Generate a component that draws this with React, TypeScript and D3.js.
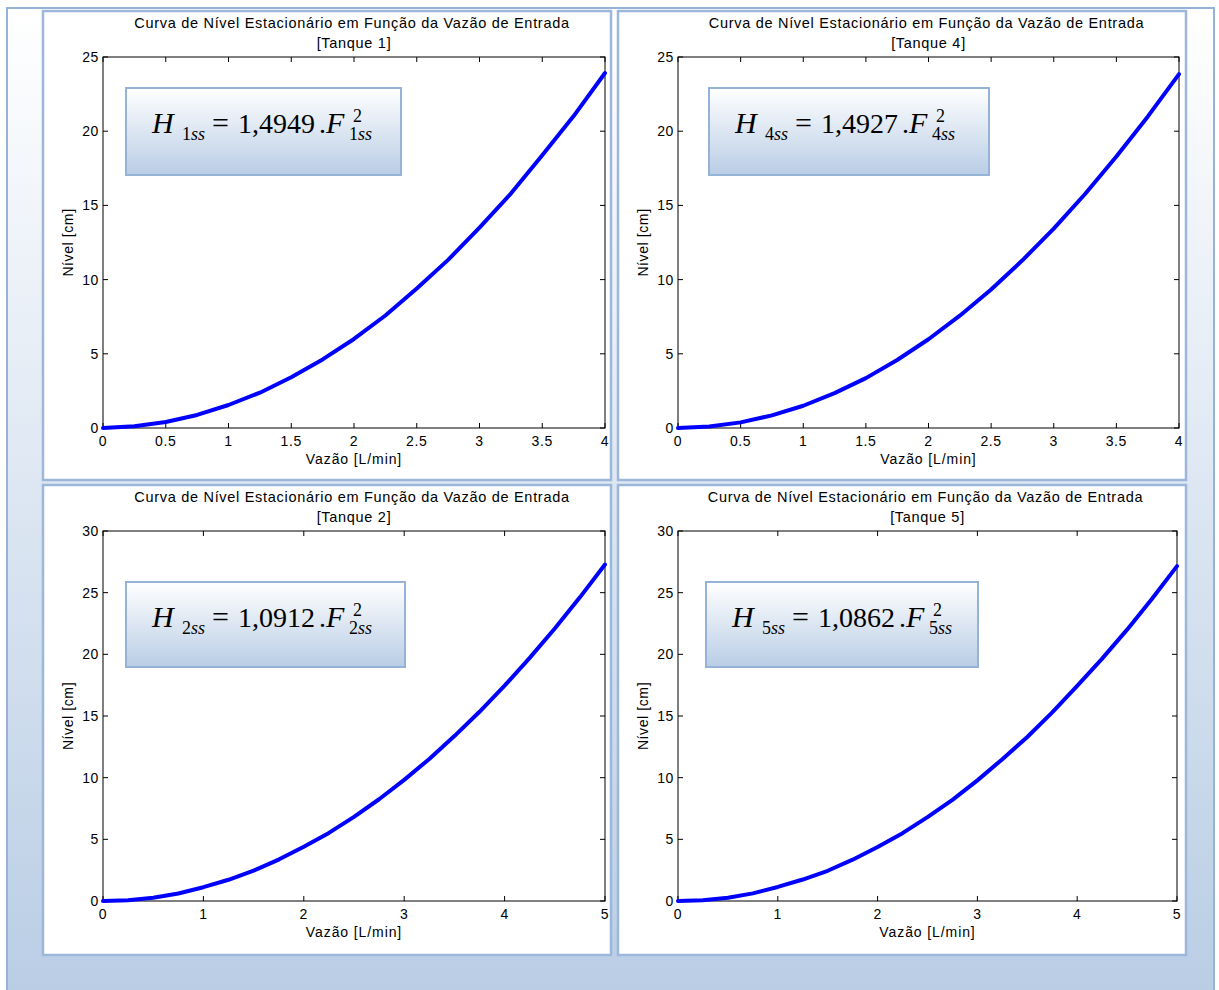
import React from 'react';
import * as d3 from 'd3';

const TITLE = 'Curva de Nível Estacionário em Função da Vazão de Entrada';
const X_LABEL = 'Vazão [L/min]';
const Y_LABEL = 'Nível [cm]';

// tanques 1 e 4 (vazão até 4 L/min)
const flowSmall = [0, 0.25, 0.5, 0.75, 1, 1.25, 1.5, 1.75, 2, 2.25, 2.5, 2.75, 3, 3.25, 3.5, 3.75, 4];
const level1 = [0, 0.12, 0.4, 0.88, 1.55, 2.38, 3.42, 4.62, 6.0, 7.58, 9.4, 11.33, 13.5, 15.8, 18.38, 21.02, 23.92];
const level4 = [0, 0.1, 0.38, 0.85, 1.5, 2.35, 3.36, 4.58, 5.98, 7.57, 9.33, 11.3, 13.43, 15.77, 18.3, 20.98, 23.85];

// tanques 2 e 5 (vazão até 5 L/min)
const flowLarge = [0, 0.25, 0.5, 0.75, 1, 1.25, 1.5, 1.75, 2, 2.25, 2.5, 2.75, 3, 3.25, 3.5, 3.75, 4, 4.25, 4.5, 4.75, 5];
const level2 = [0, 0.07, 0.27, 0.61, 1.12, 1.72, 2.46, 3.36, 4.4, 5.52, 6.82, 8.25, 9.82, 11.52, 13.37, 15.34, 17.46, 19.71, 22.1, 24.62, 27.28];
const level5 = [0, 0.07, 0.27, 0.62, 1.14, 1.74, 2.45, 3.35, 4.38, 5.5, 6.8, 8.2, 9.78, 11.5, 13.3, 15.3, 17.45, 19.65, 22.0, 24.5, 27.15];

const xTicksSmall = [0, 0.5, 1, 1.5, 2, 2.5, 3, 3.5, 4];
const xTicksLarge = [0, 1, 2, 3, 4, 5];
const yTicksSmall = [0, 5, 10, 15, 20, 25];
const yTicksLarge = [0, 5, 10, 15, 20, 25, 30];

const tanks = ['1', '4', '2', '5'];
const coefs = ['1,4949', '1,4927', '1,0912', '1,0862'];

const W = 1219;
const H = 990;
const SANS = "'Liberation Sans', Arial, sans-serif";
const SERIF = "'Liberation Serif', 'Times New Roman', serif";

// layout: panel rect, plot area [x0, x1, yTop, yBottom], equation box
const layout = [
  { panel: [43, 11, 568, 469], plot: [103, 605, 57, 428], box: [126, 88, 275, 87] },
  { panel: [618, 11, 568, 469], plot: [678, 1179, 57, 428], box: [709, 88, 280, 87] },
  { panel: [43, 485, 568, 470], plot: [103, 605, 531, 901], box: [126, 582, 279, 85] },
  { panel: [618, 485, 568, 470], plot: [678, 1177, 531, 901], box: [706, 582, 272, 85] },
];

const series = [
  { flow: flowSmall, level: level1, xTicks: xTicksSmall, yTicks: yTicksSmall },
  { flow: flowSmall, level: level4, xTicks: xTicksSmall, yTicks: yTicksSmall },
  { flow: flowLarge, level: level2, xTicks: xTicksLarge, yTicks: yTicksLarge },
  { flow: flowLarge, level: level5, xTicks: xTicksLarge, yTicks: yTicksLarge },
];

const Equation = ({ box, tank, coef }) => {
  const [x, y] = box;
  return (
    <g fontFamily={SERIF} fill="#000">
      <text x={x + 26} y={y + 45} fontSize={30} fontStyle="italic">H</text>
      <text x={x + 56} y={y + 52} fontSize={18}>{tank}<tspan fontStyle="italic">ss</tspan></text>
      <text x={x + 86} y={y + 45} fontSize={30}>=</text>
      <text x={x + 112} y={y + 45} fontSize={28}>{coef}</text>
      <text x={x + 193} y={y + 45} fontSize={28}>.<tspan fontStyle="italic" fontSize={30}>F</tspan></text>
      <text x={x + 227} y={y + 34} fontSize={18}>2</text>
      <text x={x + 223} y={y + 52} fontSize={18}>{tank}<tspan fontStyle="italic">ss</tspan></text>
    </g>
  );
};

const Panel = ({ idx }) => {
  const { panel, plot, box } = layout[idx];
  const s = series[idx];
  const [x0, x1, yT, yB] = plot;
  const xMax = s.xTicks[s.xTicks.length - 1];
  const yMax = s.yTicks[s.yTicks.length - 1];
  const x = d3.scaleLinear().domain([0, xMax]).range([x0, x1]);
  const y = d3.scaleLinear().domain([0, yMax]).range([yB, yT]);
  const line = d3.line<number>()
    .x((d, i) => x(s.flow[i]))
    .y(d => y(d));
  const cx = (x0 + x1) / 2;
  const tick = 5;

  return (
    <g>
      <rect x={panel[0]} y={panel[1]} width={panel[2]} height={panel[3]}
        fill="#fff" stroke="#9cb7da" strokeWidth={2.5} />
      <g fontFamily={SANS} fontSize={14.5} fill="#000" letterSpacing={0.7}>
        <text x={cx - 2} y={panel[1] + 17} textAnchor="middle">{TITLE}</text>
        <text x={cx} y={panel[1] + 37} textAnchor="middle">[Tanque {tanks[idx]}]</text>
      </g>
      <rect x={x0} y={yT} width={x1 - x0} height={yB - yT} fill="#fff" stroke="none" />
      <g stroke="#000" strokeWidth={1}>
        {s.xTicks.map(t => (
          <g key={'x' + t}>
            <line x1={x(t)} x2={x(t)} y1={yB} y2={yB - tick} />
            <line x1={x(t)} x2={x(t)} y1={yT} y2={yT + tick} />
          </g>
        ))}
        {s.yTicks.map(t => (
          <g key={'y' + t}>
            <line x1={x0} x2={x0 + tick} y1={y(t)} y2={y(t)} />
            <line x1={x1} x2={x1 - tick} y1={y(t)} y2={y(t)} />
          </g>
        ))}
        <rect x={x0} y={yT} width={x1 - x0} height={yB - yT} fill="none" />
      </g>
      <g fontFamily={SANS} fontSize={14} fill="#000" letterSpacing={0.6}>
        {s.xTicks.map(t => (
          <text key={'xl' + t} x={x(t)} y={yB + 18} textAnchor="middle">{String(t)}</text>
        ))}
        {s.yTicks.map(t => (
          <text key={'yl' + t} x={x0 - 4} y={y(t) + 5} textAnchor="end">{String(t)}</text>
        ))}
        <text x={cx} y={yB + 36} textAnchor="middle" letterSpacing={0.9}>{X_LABEL}</text>
        <text transform={`translate(${x0 - 30},${(yT + yB) / 2}) rotate(-90)`} textAnchor="middle">{Y_LABEL}</text>
      </g>
      <path d={line(s.level) || ''} fill="none" stroke="#0000ff" strokeWidth={4}
        strokeLinejoin="round" strokeLinecap="round" />
      <rect x={box[0]} y={box[1]} width={box[2]} height={box[3]}
        fill="url(#boxGrad)" stroke="#95b3d7" strokeWidth={2} />
      <Equation box={box} tank={tanks[idx]} coef={coefs[idx]} />
    </g>
  );
};

export default function App() {
  return (
    <svg width={W} height={H} style={{ position: 'absolute', left: 0, top: 0, display: 'block' }}>
      <defs>
        <linearGradient id="bgGrad" x1="0" y1="0" x2="0" y2="1">
          <stop offset="0%" stopColor="#ffffff" />
          <stop offset="100%" stopColor="#b9cde5" />
        </linearGradient>
        <linearGradient id="boxGrad" x1="0" y1="0" x2="0" y2="1">
          <stop offset="0%" stopColor="#ffffff" />
          <stop offset="100%" stopColor="#b9cde5" />
        </linearGradient>
      </defs>
      <rect x={0} y={0} width={W} height={H} fill="#fff" />
      <rect x={7} y={8} width={1207} height={H} fill="url(#bgGrad)" stroke="#95b3d7" strokeWidth={2} />
      {layout.map((_, i) => <Panel key={i} idx={i} />)}
    </svg>
  );
}
